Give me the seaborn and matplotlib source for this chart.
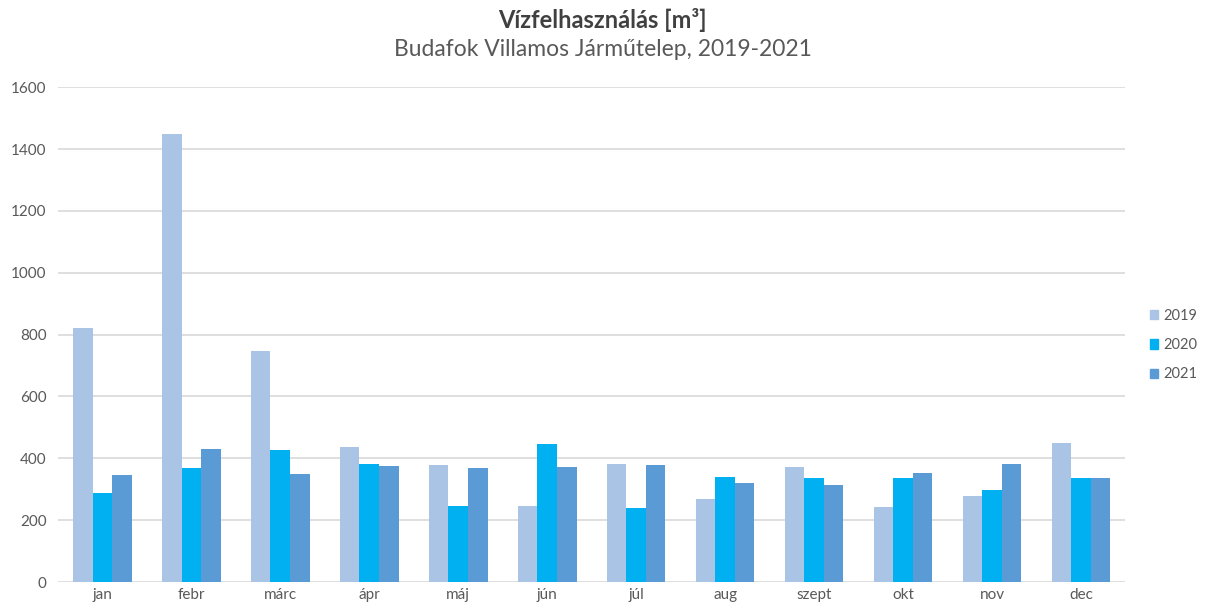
import matplotlib
matplotlib.use("Agg")
import matplotlib.pyplot as plt
import pandas as pd
import seaborn as sns

# Data
months = ["jan", "febr", "márc", "ápr", "máj", "jún",
          "júl", "aug", "szept", "okt", "nov", "dec"]
years = ["2019", "2020", "2021"]
water_2019 = [822, 1450, 747, 438, 379, 245, 381, 270, 373, 243, 278, 451]
water_2020 = [288, 370, 428, 381, 245, 445, 239, 341, 337, 337, 299, 337]
water_2021 = [345, 430, 350, 376, 370, 373, 379, 321, 315, 354, 381, 337]
colors = ["#A9C4E5", "#00B0F0", "#5B9BD5"]


def main() -> None:
    """Draw the grouped bar chart"""

    # Long-format table for seaborn
    rows = []
    for year, values in zip(years, [water_2019, water_2020, water_2021]):
        for month, value in zip(months, values):
            rows.append({"month": month, "year": year, "value": value})
    df = pd.DataFrame(rows)

    sns.set_theme(style="white")
    plt.rcParams["font.family"] = ["Lato", "DejaVu Sans"]

    fig = plt.figure(figsize=(12.05, 6.14), dpi=100)
    ax = fig.add_axes([0.048, 0.052, 0.886, 0.806])

    sns.barplot(
        data=df, x="month", y="value", hue="year",
        order=months, hue_order=years,
        palette=colors, saturation=1, width=0.66,
        linewidth=0, ax=ax, legend=False,
    )

    # Axes styling
    ax.set_ylim(0, 1600)
    ax.set_xlim(-0.5, 11.5)
    ax.set_yticks(range(0, 1601, 200))
    ax.yaxis.grid(True, color="#D9D9D9", linewidth=1.2)
    ax.set_axisbelow(True)
    for spine in ax.spines.values():
        spine.set_visible(False)
    ax.set_xlabel("")
    ax.set_ylabel("")
    ax.tick_params(axis="both", length=0, labelsize=11, labelcolor="#595959")
    ax.tick_params(axis="x", pad=4)
    ax.tick_params(axis="y", pad=8)

    # Legend on the right
    handles = [plt.Rectangle((0, 0), 1, 1, color=c) for c in colors]
    fig.legend(
        handles, years, loc="center left",
        bbox_to_anchor=(0.954, 0.438), frameon=False, borderpad=0,
        borderaxespad=0, handlelength=0.6, handleheight=0.6,
        handletextpad=0.35, labelspacing=1.05, fontsize=10.5,
        labelcolor="#595959",
    )

    # Titles
    fig.text(0.5, 0.968, "Vízfelhasználás [m³]", ha="center", va="center",
             fontsize=17, fontweight="bold", color="#404040")
    fig.text(0.5, 0.92, "Budafok Villamos Járműtelep, 2019-2021",
             ha="center", va="center", fontsize=16.5, color="#595959")

    fig.savefig("out.png", dpi=100)


if __name__ == "__main__":
    main()
